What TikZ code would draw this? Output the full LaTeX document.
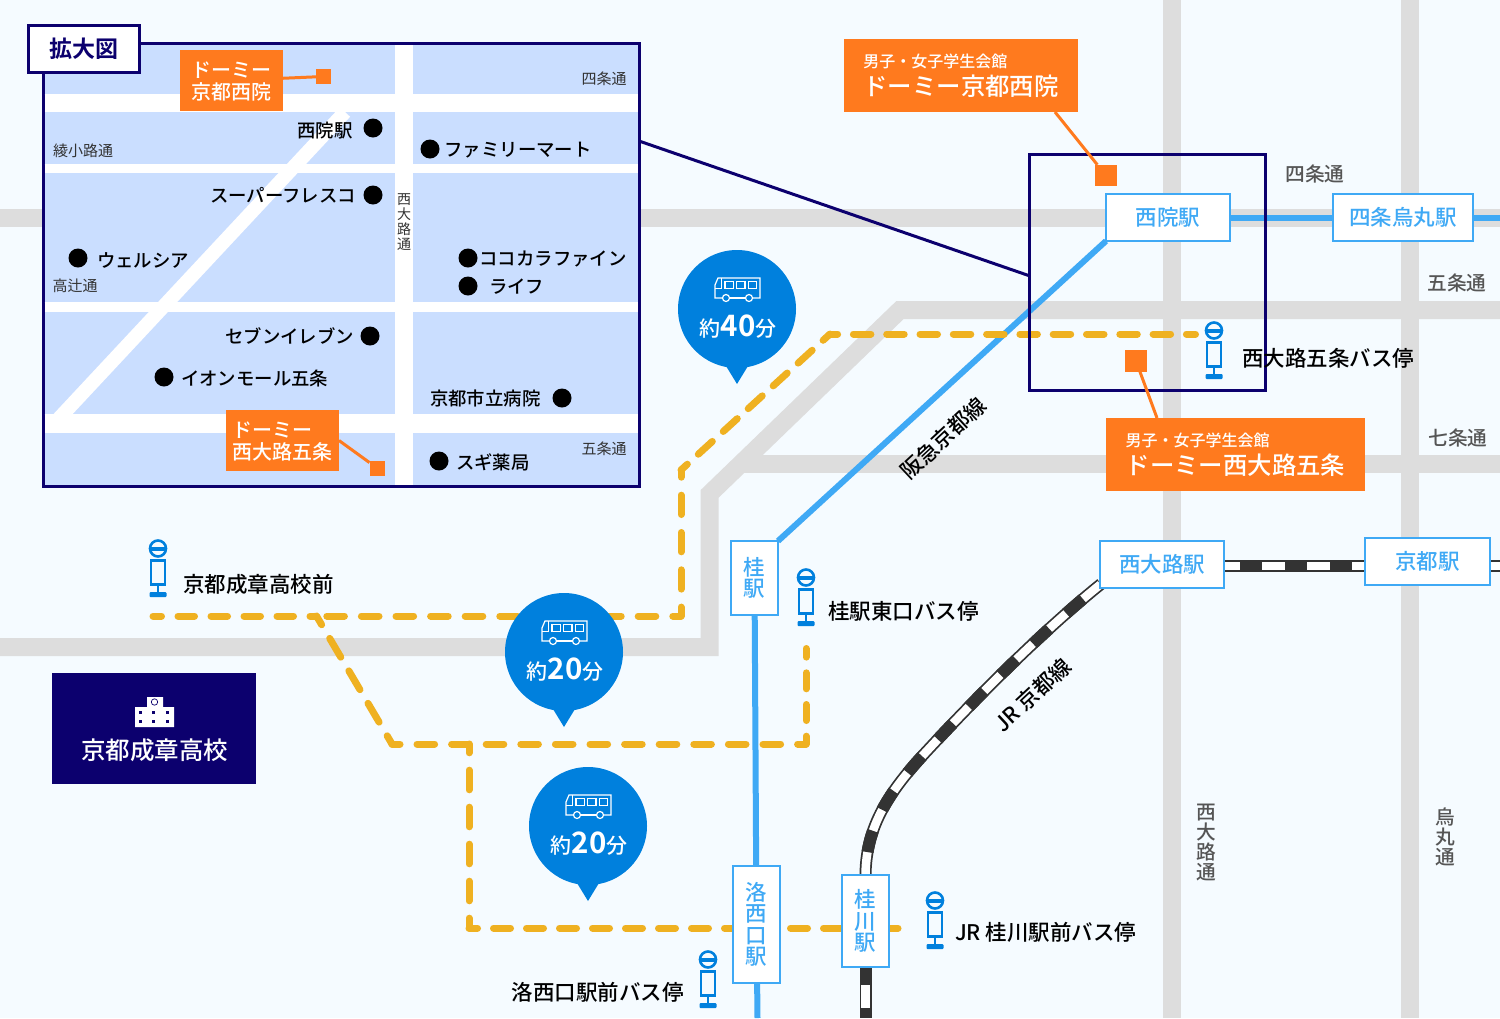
\documentclass[tikz,border=0pt]{standalone}
\usepackage{fontspec}
\setmainfont{Noto Sans CJK JP}[UprightFont=* Medium,BoldFont=* Bold]
\newfontfamily\thinfont{Noto Sans CJK JP}
\usetikzlibrary{backgrounds}
\definecolor{pagebg}{HTML}{F5FBFF}
\definecolor{roadgray}{HTML}{DDDDDD}
\definecolor{insetblue}{HTML}{CADEFF}
\definecolor{navyline}{HTML}{0C006E}
\definecolor{dormorange}{HTML}{FF7A1E}
\definecolor{railblue}{HTML}{3FA9F5}
\definecolor{busblue}{HTML}{0080DD}
\definecolor{routeyellow}{HTML}{EFB121}
\definecolor{jrdark}{HTML}{333333}
\definecolor{roadtext}{HTML}{555555}
\newcommand{\fsz}[1]{\fontsize{#1}{#1}\selectfont}
\tikzset{
    busstop/.pic={
        \draw[busblue,line width=2.6pt] (0,9.5) circle (8);
        \fill[busblue] (-8,7.5) rectangle (8,11.5);
        \draw[busblue,line width=2.8pt] (-7,21.5) rectangle (7,45.5);
        \draw[busblue,line width=2.8pt] (0,45.5) -- (0,53);
        \fill[busblue,rounded corners=1pt] (-8.5,53) rectangle (8.5,58);
    },
    busbubble/.pic={
        \fill[busblue] (0,0) circle (59);
        \fill[busblue] (-11,57) -- (11,57) -- (0,75) -- cycle;
        \draw[white,line width=1.2pt] (-14.5,-11) -- (-22,-11) -- (-22,-24) -- (-19,-31) -- (23,-31) -- (23,-11) -- (15.5,-11);
        \draw[white,line width=1.2pt] (-7.5,-11) -- (8.5,-11);
        \draw[white,line width=1.2pt] (-11,-11) circle (3.5);
        \draw[white,line width=1.2pt] (12,-11) circle (3.5);
        \draw[white,line width=1.2pt] (-12,-27.3) rectangle (-3.7,-20.7);
        \draw[white,line width=1.2pt] (-0.3,-27.3) rectangle (8,-20.7);
        \draw[white,line width=1.2pt] (11.3,-27.3) rectangle (19.7,-20.7);
        \draw[white,line width=1.2pt] (-22,-20.7) -- (-15.5,-20.7) -- (-15.5,-31);
        \node[text=white] (-time) at (1,17.5) {\fsz{21}約{\fsz{29.5}\bfseries #1}分};
    }
}
\begin{document}
\begin{tikzpicture}[x=1pt,y=-1pt,
    every node/.style={inner sep=0pt,outer sep=0pt},
    stationbox/.style={rectangle,draw=railblue,line width=2pt,fill=white,text=railblue,font=\fsz{21.5},align=center,text height=18pt,text depth=2pt},
    stationtall/.style={stationbox,text height=,text depth=,execute at begin node={\baselineskip=21.5pt}},
    roadline/.style={draw=roadgray,line width=18pt},
    streetline/.style={draw=white},
    railline/.style={draw=railblue,line width=6pt},
    jrline/.style={draw=jrdark,line width=12pt,postaction={draw=white,line width=8.5pt},postaction={draw=jrdark,line width=12pt,dash pattern=on 22pt off 23pt,dash phase=#1}},
    routeline/.style={draw=routeyellow,line width=7pt,line cap=round},
    navyframe/.style={draw=navyline,line width=3pt},
    dormsmall/.style={rectangle,fill=dormorange,text=white,font=\fsz{20},align=left,text depth=-3pt,execute at begin node={\baselineskip=22pt}},
    dormbig/.style={rectangle,fill=dormorange,text=white,align=left,execute at begin node={\baselineskip=27.5pt}},
    dormsquare/.style={rectangle,fill=dormorange},
    dormline/.style={draw=dormorange,line width=3pt},
    poidot/.style={circle,fill=black,minimum size=19pt},
    poilabel/.style={text=black,font=\fsz{18.4}},
    minilabel/.style={text=jrdark,font=\thinfont\fsz{15}},
    roadlabel/.style={text=roadtext,font=\fsz{19.7},align=center},
    stoplabel/.style={text=black,font=\fsz{21.5}},
    linelabel/.style={text=black,font=\fsz{21.5}}]
    \useasboundingbox (0,0) rectangle (1500,1018);

    \node[fill=insetblue,navyframe,minimum width=596pt,minimum height=443pt] (inset) at (341,265) {};
    \draw[streetline,line width=18pt] (44.5,103) -- (637.5,103);
    \draw[streetline,line width=9.5pt] (44.5,168.5) -- (637.5,168.5);
    \draw[streetline,line width=9.5pt] (44.5,307) -- (637.5,307);
    \draw[streetline,line width=18.5pt] (44.5,423.5) -- (637.5,423.5);
    \draw[streetline,line width=18pt] (403.5,45) -- (403.5,485);
    \draw[streetline,line width=14pt] (58,419.5) -- (345,112);

    \node[fill=white,navyframe,text=navyline,font=\fsz{23}\bfseries,minimum width=111.5pt,minimum height=47.5pt] (zoomtitle) at (84.2,48.8) {拡大図};

    \node[dormsmall,minimum width=103pt,minimum height=61pt] (inboxa) at (231.5,80.5) {ドーミー\\京都西院};
    \node[dormsquare,minimum size=15pt] (insqa) at (323.5,76.5) {};
    \draw[dormline] (inboxa) -- (insqa);
    \node[dormsmall,minimum width=113pt,minimum height=61pt] (inboxb) at (282.5,440.5) {ドーミー\\西大路五条};
    \node[dormsquare,minimum size=15pt] (insqb) at (377,468) {};
    \draw[dormline] (inboxb.east) -- (insqb);

    \node[poidot] (dsaiin) at (373,128) {};
    \node[poilabel,anchor=east] (lsaiin) at (352.5,131) {西院駅};
    \node[poidot] (dfamily) at (430,149) {};
    \node[poilabel,anchor=west] (lfamily) at (444.5,150) {ファミリーマート};
    \node[poidot] (dfresco) at (373,195) {};
    \node[poilabel,anchor=east] (lfresco) at (356,195) {スーパーフレスコ};
    \node[poidot] (dwelcia) at (78,258) {};
    \node[poilabel,anchor=west] (lwelcia) at (97,260) {ウェルシア};
    \node[poidot] (dcocokara) at (468,258) {};
    \node[poilabel,anchor=west] (lcocokara) at (479.5,259) {ココカラファイン};
    \node[poidot] (dlife) at (468,286) {};
    \node[poilabel,anchor=west] (llife) at (489,287) {ライフ};
    \node[poidot] (dseven) at (370,336) {};
    \node[poilabel,anchor=east] (lseven) at (354,336) {セブンイレブン};
    \node[poidot] (daeon) at (164,377) {};
    \node[poilabel,anchor=west] (laeon) at (181,378) {イオンモール五条};
    \node[poidot] (dhospital) at (562,398) {};
    \node[poilabel,anchor=east] (lhospital) at (540.5,398) {京都市立病院};
    \node[poidot] (dsugi) at (439,461) {};
    \node[poilabel,anchor=west] (lsugi) at (456,462) {スギ薬局};

    \node[minilabel] (mshijo) at (604,79) {四条通};
    \node[minilabel] (maya) at (83,151) {綾小路通};
    \node[minilabel] (mtaka) at (75,286) {高辻通};
    \node[minilabel] (mgojo) at (604,449) {五条通};
    \node[minilabel,font=\thinfont\fsz{14},align=center,execute at begin node={\baselineskip=15pt}] (mnishi) at (404,222) {西\\大\\路\\通};

    \node[draw=navyline,line width=3pt,minimum width=236pt,minimum height=236pt] (zoombox) at (1147.5,272) {};
    \coordinate (zoomlinea) at (639,141);
    \coordinate (zoomlineb) at (1030,276);
    \draw[navyframe] (zoomlinea) -- (zoomlineb);

    \node[dormbig,minimum width=234pt,minimum height=73pt] (dormboxa) at (961,75.5) {{\fsz{16}男子・女子学生会館}\\{\fsz{24.4}ドーミー京都西院}};
    \node[dormsquare,minimum size=21.5pt] (dormsqa) at (1106,175.5) {};
    \coordinate (dormstarta) at (1055,112);
    \draw[dormline] (dormstarta) -- (dormsqa);
    \node[dormbig,minimum width=259pt,minimum height=73pt] (dormboxb) at (1235.5,454.5) {{\fsz{16}男子・女子学生会館}\\{\fsz{24.4}ドーミー西大路五条}};
    \node[dormsquare,minimum size=21.5pt] (dormsqb) at (1136,361) {};
    \coordinate (dormstartb) at (1157,418);
    \draw[dormline] (dormstartb) -- (dormsqb);

    \node[stationbox,minimum width=124pt,minimum height=47pt] (saiin) at (1168,217.5) {西院駅};
    \node[stationbox,minimum width=140pt,minimum height=47pt] (karasuma) at (1403,217.5) {四条烏丸駅};
    \node[stationbox,minimum width=124pt,minimum height=47pt] (nishioji) at (1162,564.5) {西大路駅};
    \node[stationbox,minimum width=125pt,minimum height=47pt] (kyoto) at (1427.5,561) {京都駅};
    \node[stationtall,minimum width=47pt,minimum height=74pt] (katsura) at (754.5,578) {桂\\駅};
    \node[stationtall,minimum width=47pt,minimum height=117pt] (rakusai) at (756.5,924.5) {洛\\西\\口\\駅};
    \node[stationtall,minimum width=47pt,minimum height=92pt] (katsuragawa) at (865.5,921) {桂\\川\\駅};

    \node[roadlabel] (rshijo) at (1315,174) {四条通};
    \node[roadlabel] (rgojo) at (1457,283) {五条通};
    \node[roadlabel] (rshichi) at (1458,438) {七条通};
    \node[roadlabel,execute at begin node={\baselineskip=20pt}] (rnishi) at (1206,843) {西\\大\\路\\通};
    \node[roadlabel,execute at begin node={\baselineskip=20pt}] (rkara) at (1445,837) {烏\\丸\\通};
    \node[linelabel,rotate=43] (lhankyu) at (943,438) {阪急京都線};
    \node[linelabel,rotate=43] (ljr) at (1032.5,695) {JR 京都線};

    \pic (stopa) at (1214,321) {busstop};
    \node[stoplabel,anchor=west] (lstopa) at (1242,358) {西大路五条バス停};
    \pic (stopb) at (158,539) {busstop};
    \node[stoplabel,anchor=west] (lstopb) at (183,584) {京都成章高校前};
    \pic (stopc) at (806,568) {busstop};
    \node[stoplabel,anchor=west] (lstopc) at (828,611) {桂駅東口バス停};
    \pic (stopd) at (935,891) {busstop};
    \node[stoplabel,anchor=west] (lstopd) at (955,932) {JR 桂川駅前バス停};
    \pic (stope) at (708,950) {busstop};
    \node[stoplabel,anchor=east] (lstope) at (683.5,992) {洛西口駅前バス停};

    \pic (bubblea) at (737,309) {busbubble=40};
    \pic (bubbleb) at (564,652) {busbubble=20};
    \pic (bubblec) at (588,826) {busbubble=20};

    \node[rectangle,fill=navyline,minimum width=204pt,minimum height=111pt] (school) at (154,728.5) {};
    \node[text=white,font=\fsz{24.5}] (lschool) at (154.5,750) {京都成章高校};
    \fill[white] (147,697) rectangle (163,707) (135,707) rectangle (174,727);
    \draw[navyline,line width=0.7pt] (154.5,702) circle (3.2);
    \foreach \xpos in {140,153,167} {
        \foreach \ypos in {712,721} {
            \fill[navyline] (\xpos-1.5,\ypos-1.5) rectangle (\xpos+1.5,\ypos+1.5);
        }
    }

    \begin{scope}[on background layer]
        \fill[pagebg] (0,0) rectangle (1500,1018);
        \draw[roadline] (0,218) -- (1500,218);
        \draw[roadline] (1172,0) -- (1172,1018);
        \draw[roadline] (1410,0) -- (1410,1018);
        \draw[roadline] (1500,310) -- (900,310) -- (709.5,494) -- (709.5,647) -- (0,647);
        \draw[roadline] (744,463.5) -- (1500,463.5);

        \coordinate (karasumaend) at (1500,217.5);
        \coordinate (rakusaiend) at (757.5,1018);
        \draw[railline] (saiin) -- (karasuma);
        \draw[railline] (karasuma) -- (karasumaend);
        \draw[railline] (saiin.south west) -- (katsura.north east);
        \draw[railline] (katsura) -- (rakusai);
        \draw[railline] (rakusai) -- (rakusaiend);

        \coordinate (jrbend) at (925,753);
        \coordinate (jrstart) at (1101,584);
        \coordinate (kyotoend) at (1500,566);
        \coordinate (jrend) at (865.5,1018);
        \draw[jrline=29pt] (nishioji.east) ++(0,1.5) -- (kyoto.west |- 0,566);
        \draw[draw=jrdark,line width=12pt,postaction={draw=white,line width=8.5pt}] (kyoto.east |- 0,566) -- (kyotoend);
        \draw[jrline=22pt] (katsuragawa.north) .. controls (866,830) and (885,796) .. (jrbend) .. controls (1000,672) and (1060,617) .. (jrstart);
        \draw[jrline=4pt] (katsuragawa.south) -- (jrend);

        \coordinate (ra) at (153,616);
        \coordinate (rb) at (316.5,616);
        \coordinate (rc) at (326.8,616);
        \coordinate (rd) at (681,616);
        \coordinate (re) at (681,470);
        \coordinate (rf) at (830,334);
        \coordinate (rg) at (1195.5,334);
        \coordinate (rh) at (392,744);
        \coordinate (ri) at (806,744);
        \coordinate (rj) at (806,648.5);
        \coordinate (rk) at (469,744);
        \coordinate (rl) at (469,928);
        \coordinate (rm) at (898,928);
        \draw[routeline,dash pattern=on 16.5pt off 16.5pt,dash phase=8pt] (ra) -- (rb);
        \draw[routeline,dash pattern=on 17.6pt off 17pt] (rc) -- (rd);
        \draw[routeline,dash pattern=on 19.3pt off 18pt,dash phase=12.1pt] (re) -- (rd);
        \draw[routeline,dash pattern=on 19pt off 14.8pt,dash phase=10.4pt] (re) -- (rf);
        \draw[routeline,dash pattern=on 17.5pt off 15.8pt,dash phase=9.9pt] (rf) -- (rg);
        \draw[routeline,dash pattern=on 21.8pt off 15.9pt,dash phase=11.7pt] (rb) -- (rh);
        \draw[routeline,dash pattern=on 17.6pt off 17pt,dash phase=9.6pt] (rh) -- (ri);
        \draw[routeline,dash pattern=on 16pt off 15.7pt,dash phase=8.2pt] (ri) -- (rj);
        \draw[routeline,dash pattern=on 19.6pt off 17.4pt,dash phase=10.8pt] (rk) -- (rl);
        \draw[routeline,dash pattern=on 17pt off 16pt,dash phase=8.5pt] (rl) -- (rm);
    \end{scope}
\end{tikzpicture}
\end{document}
